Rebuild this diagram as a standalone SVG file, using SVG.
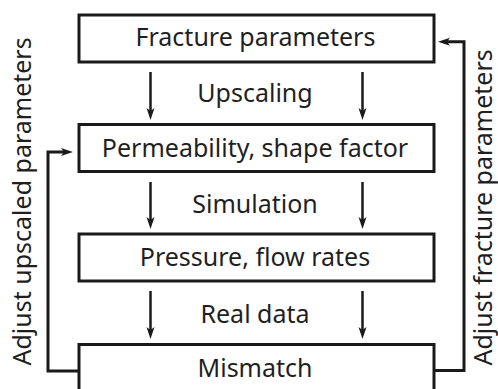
<svg xmlns="http://www.w3.org/2000/svg" width="498" height="389" viewBox="0 0 498 389">
<style>
.box{fill:#fff;stroke:#1a1a1a;stroke-width:3}
.t{font-family:"Noto Sans","Open Sans",sans-serif;font-size:25px;fill:#1f1f1f}
.c{text-anchor:middle}
.ar{fill:none;stroke:#1a1a1a;stroke-width:2.5}
.fb{fill:none;stroke:#1a1a1a;stroke-width:3}
</style>
<defs>
<marker id="ah" markerUnits="userSpaceOnUse" markerWidth="20" markerHeight="20" viewBox="-10 -10 20 20" refX="0" refY="0" orient="auto">
<path d="M6,0 L-6,-4 L-3,0 L-6,4 z" fill="#1a1a1a"/>
</marker>
</defs>
<rect x="0" y="0" width="498" height="389" fill="#fff"/>
<g id="connectors">
<line class="ar" x1="150.5" y1="72" x2="150.5" y2="114" marker-end="url(#ah)"/>
<line class="ar" x1="362.5" y1="72" x2="362.5" y2="114" marker-end="url(#ah)"/>
<line class="ar" x1="150.5" y1="182" x2="150.5" y2="223" marker-end="url(#ah)"/>
<line class="ar" x1="362.5" y1="182" x2="362.5" y2="223" marker-end="url(#ah)"/>
<line class="ar" x1="150.5" y1="291" x2="150.5" y2="333" marker-end="url(#ah)"/>
<line class="ar" x1="362.5" y1="291" x2="362.5" y2="333" marker-end="url(#ah)"/>
<path class="fb" d="M79,371 H48 V152 H67" marker-end="url(#ah)"/>
<path class="fb" d="M434,370.5 H464 V41.7 H444" marker-end="url(#ah)"/>
</g>
<g id="n1"><rect class="box" x="79" y="15" width="355" height="47"/><text class="t c" x="255.5" y="46">Fracture parameters</text></g>
<g id="n2"><rect class="box" x="79" y="124.5" width="355" height="47"/><text class="t c" x="255" y="156.5">Permeability, shape factor</text></g>
<g id="n3"><rect class="box" x="79" y="234" width="355" height="47"/><text class="t c" x="255" y="265.7">Pressure, flow rates</text></g>
<g id="n4"><rect class="box" x="79" y="344.5" width="355" height="50"/><text class="t c" x="255" y="377">Mismatch</text></g>
<g id="labels">
<text class="t c" x="255" y="101.5">Upscaling</text>
<text class="t c" x="255" y="212.5">Simulation</text>
<text class="t c" x="255" y="322.5">Real data</text>
<text class="t" transform="translate(31,365.5) rotate(-90)">Adjust upscaled parameters</text>
<text class="t" transform="translate(492,365.5) rotate(-90)">Adjust fracture parameters</text>
</g>
</svg>
